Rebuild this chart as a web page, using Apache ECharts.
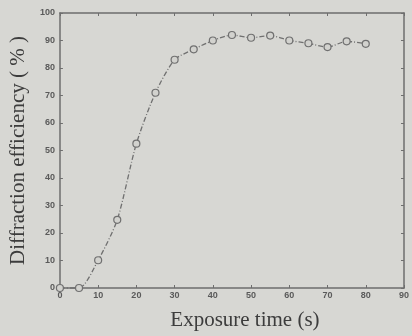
<!DOCTYPE html>
<html>
<head>
<meta charset="utf-8">
<script src="https://cdn.jsdelivr.net/npm/echarts@6/dist/echarts.min.js"></script>
<style>
html,body{margin:0;padding:0;background:#d7d7d3;}
#c{width:412px;height:336px;}
</style>
</head>
<body>
<div id="c"></div>
<script>
const exposureTime = [0, 5, 10, 15, 20, 25, 30, 35, 40, 45, 50, 55, 60, 65, 70, 75, 80];
const efficiency   = [0, 0, 10.1, 24.8, 52.5, 71, 83, 86.8, 90, 92, 91, 91.8, 90, 89, 87.6, 89.7, 88.8];
const xTicks = { min: 0, max: 90, interval: 10 };
const yTicks = { min: 0, max: 100, interval: 10 };
const xTitle = 'Exposure time (s)';
const yTitle = 'Diffraction efficiency ( % )';

const ink = '#5a5a5a';
const frame = '#6e6e6e';
const chart = echarts.init(document.getElementById('c'), null, {renderer: 'canvas'});
const tickLabel = {color: ink, fontFamily: 'Liberation Sans, Arial, sans-serif', fontSize: 9, fontWeight: 'bold'};
const lineStyleFrame = {show: true, onZero: false, lineStyle: {color: frame, width: 1.5}};
chart.setOption({
  backgroundColor: '#d7d7d3',
  animation: false,
  grid: {left: 57, right: 2, top: 13, bottom: 44, containLabel: false},
  xAxis: [{
    type: 'value', min: xTicks.min, max: xTicks.max, interval: xTicks.interval,
    name: xTitle, nameLocation: 'middle', nameGap: 22,
    nameTextStyle: {fontFamily: 'Liberation Serif, Times New Roman, serif', fontSize: 21, color: '#3c3c3c', padding: [0, 0, 0, 26]},
    axisLine: lineStyleFrame,
    axisTick: {show: true, inside: true, length: 3, lineStyle: {color: frame}},
    axisLabel: Object.assign({margin: 3}, tickLabel),
    splitLine: {show: false}
  }, {
    type: 'value', position: 'top', min: xTicks.min, max: xTicks.max, interval: xTicks.interval,
    axisLine: lineStyleFrame,
    axisTick: {show: true, inside: true, length: 3, lineStyle: {color: frame}},
    axisLabel: {show: false}, splitLine: {show: false}
  }],
  yAxis: [{
    type: 'value', min: yTicks.min, max: yTicks.max, interval: yTicks.interval,
    name: yTitle, nameLocation: 'middle', nameGap: 27,
    nameTextStyle: {fontFamily: 'Liberation Serif, Times New Roman, serif', fontSize: 21, color: '#3c3c3c'},
    axisLine: lineStyleFrame,
    axisTick: {show: true, inside: true, length: 3, lineStyle: {color: frame}},
    axisLabel: Object.assign({margin: 5}, tickLabel),
    splitLine: {show: false}
  }, {
    type: 'value', position: 'right', min: yTicks.min, max: yTicks.max, interval: yTicks.interval,
    axisLine: lineStyleFrame,
    axisTick: {show: true, inside: true, length: 3, lineStyle: {color: frame}},
    axisLabel: {show: false}, splitLine: {show: false}
  }],
  series: [{
    type: 'line',
    data: exposureTime.map((t, i) => [t, efficiency[i]]),
    smooth: 0.25,
    symbol: 'circle', symbolSize: 7,
    itemStyle: {color: '#d2d2ce', borderColor: '#707070', borderWidth: 1.2},
    lineStyle: {color: '#707070', width: 1.3, type: [5, 2, 1, 2]},
    clip: false
  }]
});
</script>
</body>
</html>
